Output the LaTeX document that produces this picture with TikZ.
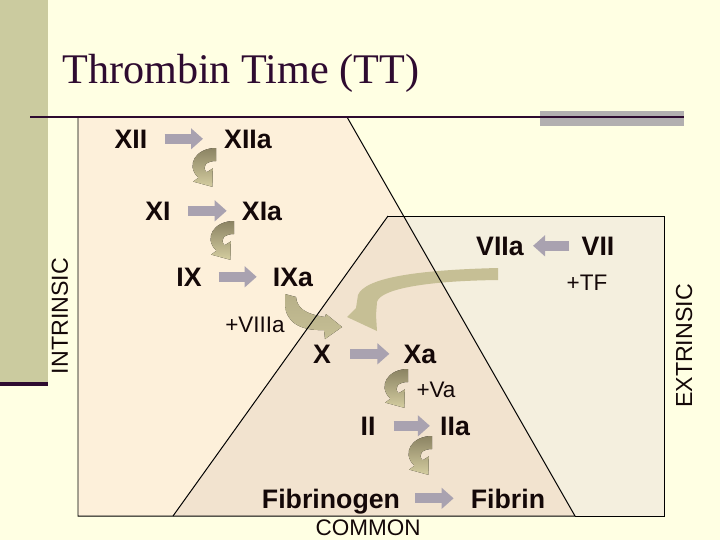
\documentclass[tikz,border=0pt]{standalone}
\usepackage{fontspec}
\setmainfont{Liberation Sans}
\newfontfamily\titlefont{Liberation Serif}
\usetikzlibrary{arrows.meta,calc}

\definecolor{bgyellow}{HTML}{FFFFE3}
\definecolor{stripolive}{HTML}{CBCB9F}
\definecolor{deeppurple}{HTML}{2E0B30}
\definecolor{bargray}{HTML}{B2AFB0}
\definecolor{intrfill}{HTML}{FDF0DA}
\definecolor{extrfill}{HTML}{F4EFDE}
\definecolor{commfill}{HTML}{F2E3CF}
\definecolor{arrowgray}{HTML}{A9A2B0}
\definecolor{curldark}{HTML}{8B8363}
\definecolor{curllight}{HTML}{D4CDA0}
\definecolor{khaki}{HTML}{C6BF95}
\definecolor{inkblack}{HTML}{140808}

\tikzset{
  lbl/.style={anchor=base,inner sep=0pt,text depth=0pt,text=inkblack,font=\fontsize{19}{21}\selectfont\bfseries},
  note/.style={anchor=base,inner sep=0pt,text=inkblack,font=\fontsize{16}{18}\selectfont},
  side/.style={inner sep=0pt,rotate=90,text=inkblack,font=\fontsize{16.5}{18}\selectfont},
  gbar/.style={draw=arrowgray,line width=7.1pt,-{Triangle[length=8.5pt,width=14.5pt]}},
  edge/.style={draw=black,line width=0.7pt},
  curl/.pic={
    \fill[top color=curldark,bottom color=curllight]
      (0,0) .. controls (-20,0) and (-31,17) .. (-17.6,29.7) -- (-22.8,33.6)
      -- (-3.6,38.8) -- (-3.2,20.4) -- (-9.4,24.3)
      .. controls (-14.6,18.7) and (-10,13) .. (0,13) -- cycle;
  }
}

\begin{document}
\begin{tikzpicture}[x=0.025cm,y=-0.025cm]
\useasboundingbox (0,0) rectangle (720,540);
\fill[bgyellow] (0,0) rectangle (720,540);
% slide frame
\fill[stripolive] (0,0) rectangle (48,382);
\fill[deeppurple] (0,382) rectangle (48,386);
%
% regions
\fill[extrfill] (388,216) rectangle (664,516);
\fill[intrfill] (78,117) -- (347,117) -- (575,516) -- (78,516) -- cycle;
\begin{scope}
\clip (78,117) -- (347,117) -- (575,516) -- (78,516) -- cycle;
\fill[commfill] (388,216) -- (173,516) -- (664,516) -- (664,216) -- cycle;
\end{scope}
%
% curved arrows
\pic at (216,148) {curl};
\pic at (234,221) {curl};
\pic at (408,369) {curl};
\pic at (432,436) {curl};
\fill[top color=khaki!75!curldark,bottom color=khaki] (285,294) -- (296,297)
  .. controls (297,308) and (305,314) .. (325,317) -- (326,314) -- (342,327)
  -- (325,339) -- (324,330) .. controls (300,331) and (286,322) .. (285,305) -- cycle;
\fill[khaki] (498,268) .. controls (415,270) and (365,278) .. (358,295) -- (356,308)
  -- (347,317) -- (377,331) -- (376,315) -- (377,302)
  .. controls (380,290) and (420,281) .. (498,280) -- cycle;
%
% outlines
\draw[edge] (78,117) -- (347,117) -- (575,516) -- (78,516) -- cycle;
\draw[edge] (388,216) -- (664,216) -- (664,516) -- (575,516);
\draw[edge] (388,216) -- (173,516);
\fill[bargray] (540,111) rectangle (684,126);
\draw[deeppurple,line width=2pt] (30,117) -- (684,117);
%
\node[anchor=base west,inner sep=0pt,text=deeppurple,font=\titlefont\fontsize{30}{34}\selectfont] (title) at (62,83) {Thrombin Time (TT)};
%
\node[lbl] (fxii) at (131,148) {XII};
\node[lbl] (fxiia) at (248,148) {XIIa};
\node[lbl] (fxi) at (158,220) {XI};
\node[lbl] (fxia) at (262,220) {XIa};
\node[lbl] (fix) at (189,286) {IX};
\node[lbl] (fixa) at (293,286) {IXa};
\node[lbl] (fx) at (322,363) {X};
\node[lbl] (fxa) at (420,363) {Xa};
\node[lbl] (fii) at (368,435) {II};
\node[lbl] (fiia) at (455,435) {IIa};
\node[lbl] (fbg) at (331,508) {Fibrinogen};
\node[lbl] (fbn) at (508,508) {Fibrin};
\node[lbl] (fviia) at (500,255) {VIIa};
\node[lbl] (fvii) at (598,255) {VII};
\node[note] (tf) at (587,290) {+TF};
\node[note] (viiia) at (255,332) {+VIIIa};
\node[note] (va) at (436,397) {+Va};
\node[note] (common) at (368,535) {COMMON};
\node[side] (intr) at (60,316) {INTRINSIC};
\node[side] (extr) at (684,346) {EXTRINSIC};
%
\draw[gbar] ($(fxii.east)+(17,0)$) -- ($(fxiia.west)-(21,0)$);
\draw[gbar] ($(fxi.east)+(17,0)$) -- ($(fxia.west)-(15,0)$);
\draw[gbar] ($(fix.east)+(17,0)$) -- ($(fixa.west)-(16,0)$);
\draw[gbar] ($(fx.east)+(19,0)$) -- ($(fxa.west)-(14,0)$);
\draw[gbar] ($(fii.east)+(18,0)$) -- ($(fiia.west)-(10,0)$);
\draw[gbar] ($(fbg.east)+(15,0)$) -- ($(fbn.west)-(17,0)$);
\draw[gbar] ($(fvii.west)-(12,0)$) -- ($(fviia.east)+(9,0)$);
\end{tikzpicture}
\end{document}
